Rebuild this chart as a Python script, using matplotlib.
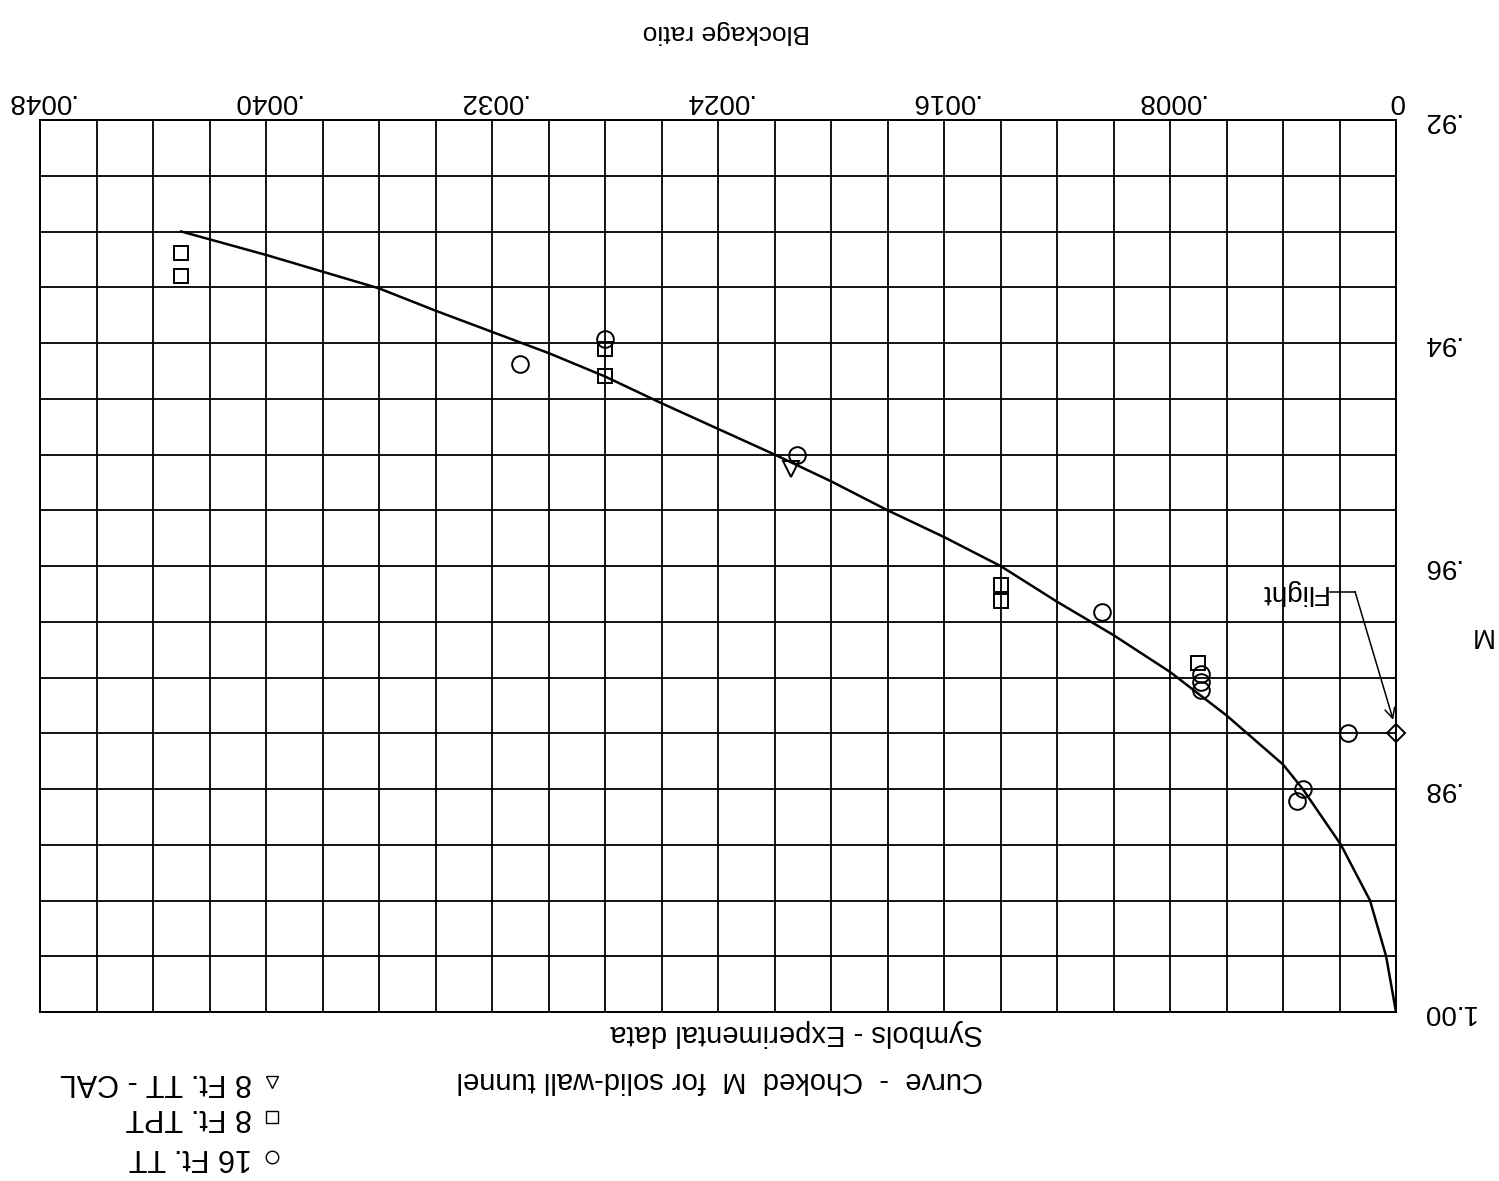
import numpy as np
import matplotlib
matplotlib.use("Agg")
import matplotlib.pyplot as plt
from matplotlib.lines import Line2D

plt.rcParams['font.family'] = ['Liberation Sans Narrow', 'Liberation Sans',
                               'DejaVu Sans']

# Choked Mach number curve for a solid-wall tunnel
curve_ratio = [0.0043, 0.0042, 0.0040, 0.0038, 0.0036, 0.0034, 0.0032, 0.0030,
               0.0028, 0.0026, 0.0024, 0.0022, 0.0020, 0.0018, 0.0016, 0.0014,
               0.0012, 0.0010, 0.0008, 0.0006, 0.0004, 0.00033, 0.000195,
               0.000092, 0.000035, 0.0]
curve_mach = [0.9300, 0.9307, 0.9321, 0.9336, 0.9351, 0.9371, 0.9390, 0.9409,
              0.9430, 0.9454, 0.9477, 0.9500, 0.9524, 0.9550, 0.9574, 0.9600,
              0.9632, 0.9662, 0.9695, 0.9734, 0.9778, 0.9800, 0.9850,
              0.9900, 0.9950, 1.0000]

# Experimental data
tt16_ratio = [0.0031, 0.0028, 0.00212, 0.00104, 0.00069, 0.00069, 0.00069,
              0.00017, 0.00033, 0.00035]
tt16_mach = [0.9419, 0.9396, 0.9500, 0.9641, 0.9697, 0.9704, 0.9711,
             0.9750, 0.9800, 0.9811]

tpt8_ratio = [0.0043, 0.0043, 0.0028, 0.0028, 0.0014, 0.0014, 0.00070]
tpt8_mach = [0.9319, 0.9340, 0.9405, 0.9430, 0.9617, 0.9631, 0.9687]

cal8_ratio = [0.00214]
cal8_mach = [0.9513]

flight_ratio = [0.0]
flight_mach = [0.975]

x_ticks = [round(0.0002 * i, 5) for i in range(25)]
x_tick_labels = {0.0: "0", 0.0008: ".0008", 0.0016: ".0016", 0.0024: ".0024",
                 0.0032: ".0032", 0.0040: ".0040", 0.0048: ".0048"}
y_ticks = [round(0.92 + 0.005 * i, 3) for i in range(17)]
y_tick_labels = {0.92: ".92", 0.94: ".94", 0.96: ".96", 0.98: ".98", 1.0: "1.00"}

W, H = 1499, 1181
fig = plt.figure(figsize=(W / 100, H / 100), dpi=100)
ax = fig.add_axes([40 / W, 1 - 1012 / H, 1356 / W, 892 / H])

ax.set_xlim(0.0048, 0.0)
ax.set_ylim(1.00, 0.92)

ax.set_xticks(x_ticks)
ax.set_xticklabels([x_tick_labels.get(t, "") for t in x_ticks])
ax.set_yticks(y_ticks)
ax.set_yticklabels([y_tick_labels.get(t, "") for t in y_ticks])

ax.grid(True, color='black', linewidth=1.3)
for s in ax.spines.values():
    s.set_linewidth(1.4)

ax.tick_params(axis='x', top=False, bottom=False, labeltop=True,
               labelbottom=False, length=0, pad=4, labelsize=20,
               labelrotation=180)
ax.tick_params(axis='y', left=False, right=False, labelleft=False,
               labelright=True, length=0, pad=18, labelsize=20,
               labelrotation=180)
for lab in ax.get_yticklabels():
    lab.set_verticalalignment('center')

ax.plot(curve_ratio, curve_mach, color='black', linewidth=1.8, zorder=3,
        solid_joinstyle='round')

mk = dict(linestyle='none', mfc='none', mec='black', mew=1.4, zorder=4)
ax.plot(tt16_ratio, tt16_mach, marker='o', markersize=12, **mk)
ax.plot(tpt8_ratio, tpt8_mach, marker='s', markersize=10.5, **mk)
ax.plot(cal8_ratio, cal8_mach, marker='v', markersize=12, **mk)
ax.plot(flight_ratio, flight_mach, marker='D', markersize=9, clip_on=False, **mk)

# Flight callout
ax.text(0.000245, 0.9623, "Flight", rotation=180, ha='right', va='center',
        fontsize=20)
ax.plot([0.000235, 0.000145], [0.9623, 0.9623], color='black', linewidth=1.1)
ax.annotate("", xy=(0.00001, 0.9738), xytext=(0.000145, 0.9623),
            arrowprops=dict(arrowstyle='->', color='black', lw=1.1,
                            mutation_scale=18, shrinkA=0, shrinkB=0))

# Axis titles
fig.text(726 / W, 1 - 32 / H, "Blockage ratio", rotation=180,
         ha='center', va='center', fontsize=19)
fig.text(1480 / W, 1 - 635 / H, "M", rotation=180,
         ha='center', va='center', fontsize=20)

# Notes under the grid
fig.text(983 / W, 1 - 1033 / H, "Symbols - Experimental data", rotation=180,
         ha='right', va='center', fontsize=21)
fig.text(983 / W, 1 - 1080 / H, "Curve  -  Choked  M  for solid-wall tunnel",
         rotation=180, ha='right', va='center', fontsize=21)

# Symbol key
key_rows = [("8 Ft. TT - CAL", 'v', 1082), ("8 Ft. TPT", 's', 1117),
            ("16 Ft. TT", 'o', 1157)]
for label, m, py in key_rows:
    fig.text(252 / W, 1 - py / H, label, rotation=180, ha='right',
             va='center', fontsize=22)
    fig.add_artist(Line2D([272 / W], [1 - py / H], marker=m, markersize=9,
                          mfc='none', mec='black', mew=1.0,
                          transform=fig.transFigure))

fig.savefig("out.png", dpi=100)
